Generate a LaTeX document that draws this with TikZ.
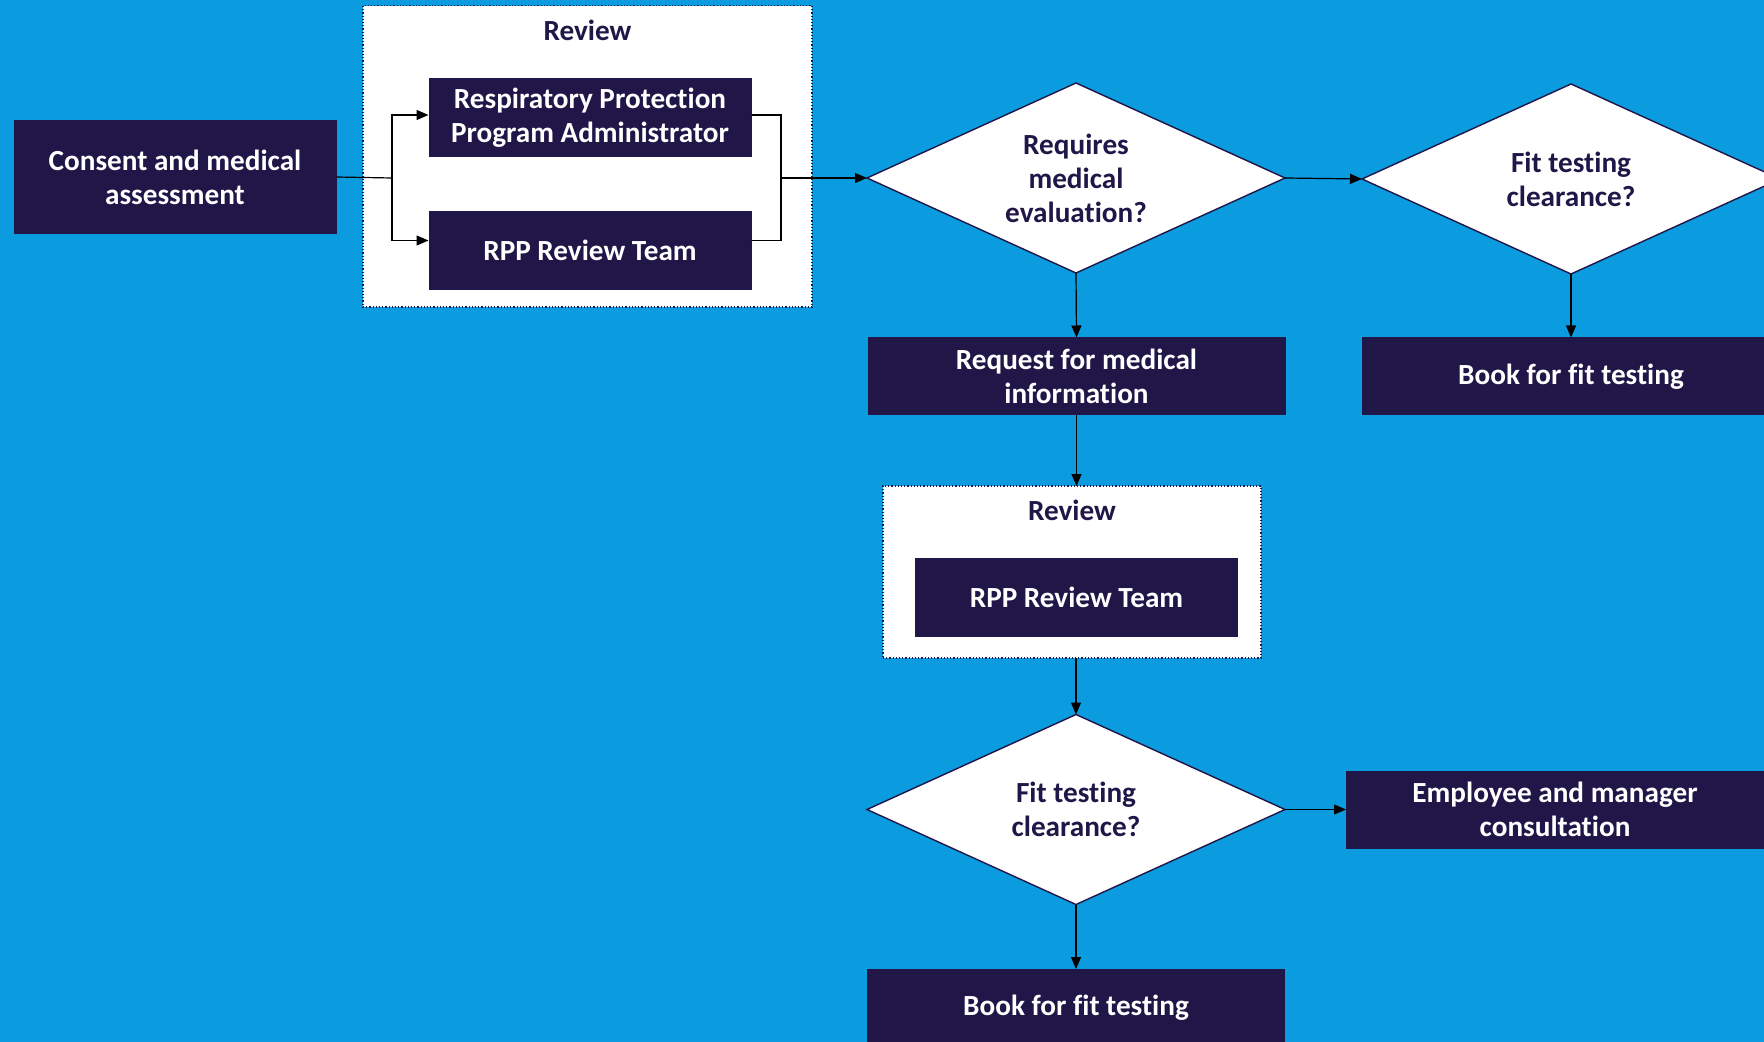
\documentclass[tikz,border=0pt]{standalone}
\usepackage{fontspec}
\setmainfont{Carlito}[Ligatures=NoCommon]
\usetikzlibrary{positioning,shapes.geometric,arrows.meta}

\definecolor{rppblue}{RGB}{11,155,223}
\definecolor{rppnavy}{RGB}{33,22,72}

\begin{document}
\begin{tikzpicture}[
        x=0.5pt, y=-0.5pt,
        font=\fontsize{14.6}{17}\selectfont\bfseries,
    stepbox/.style={
        fill=rppnavy,
        text=white,
        align=center,
        inner sep=0pt,
        outer sep=0pt,
        minimum width=161.5pt,
        minimum height=39.5pt
    },
    widebox/.style={
        stepbox,
        minimum width=209pt,
        minimum height=39pt
    },
    decision/.style={
        diamond,
        aspect=2.2,
        draw=rppnavy,
        line width=0.7pt,
        fill=white,
        text=rppnavy,
        align=center,
        inner sep=0pt,
        outer sep=0pt,
        minimum width=209pt,
        minimum height=95pt
    },
    group/.style={
        draw=rppnavy,
        densely dotted,
        line width=0.6pt,
        fill=white,
        inner sep=0pt,
        outer sep=0pt
    },
    grouptitle/.style={
        text=rppnavy
    },
    link/.style={
        draw=black,
        line width=0.6pt
    },
    flow/.style={
        link,
        -{Triangle[length=6pt,width=5pt]}
    }
    ]

    \fill[rppblue] (0,0) rectangle (1764,1042);
    \useasboundingbox (0,0) rectangle (1764,1042);

    % first review
    \node[group, minimum width=224.5pt, minimum height=150.75pt] (review_a) at (587.5,156.3) {};
    \node[grouptitle] (review_a_title) at (587.5,30) {Review};
    \node[stepbox, minimum height=57pt] (consent) at (175,177) {Consent and medical\\assessment};
    \node[stepbox] (rppa) at (590,118) {Respiratory Protection\\Program Administrator};
    \node[stepbox] (rpp_team_a) at (590,250.5) {RPP Review Team};
    \coordinate (split_l) at (392,178);
    \coordinate (split_r) at (781,178);

    % decisions, top row
    \node[decision] (req_eval) at (1076,178) {Requires\\medical\\evaluation?};
    \node[decision] (fit_a) at (1571,179) {Fit testing\\clearance?};
    \node[widebox] (request) at (1076.5,376.5) {Request for medical\\information};
    \node[widebox, below=31.75pt of fit_a] (book_a) {Book for fit testing};

    % second review
    \node[group, minimum width=189pt, minimum height=86pt] (review_b) at (1072,572) {};
    \node[grouptitle] (review_b_title) at (1072,510) {Review};
    \node[stepbox] (rpp_team_b) at (1076.5,597) {RPP Review Team};
    \node[decision] (fit_b) at (1076,809.5) {Fit testing\\clearance?};
    \node[widebox, right=30.5pt of fit_b] (consult) {Employee and manager\\consultation};
    \node[widebox, minimum height=38.5pt] (book_b) at (1076,1007.5) {Book for fit testing};

    \draw[link] (consent.east) -- (split_l);
    \draw[flow] (split_l) |- ([yshift=1.5pt]rppa.west);
    \draw[flow] (split_l) |- ([yshift=5pt]rpp_team_a.west);
    \draw[link] ([yshift=1.5pt]rppa.east) -| (split_r);
    \draw[link] ([yshift=5pt]rpp_team_a.east) -| (split_r);
    \draw[flow] (split_r) -- (req_eval.west);
    \draw[flow] (req_eval.east) -- (fit_a.west);
    \draw[flow] (fit_a.south) -- (book_a.north);
    \draw[flow] (req_eval.south) -- (request.north);
    \draw[flow] (request.south) -- (review_b.north -| request.south);
    \draw[flow] (review_b.south -| fit_b.north) -- (fit_b.north);
    \draw[flow] (fit_b.east) -- (consult.west);
    \draw[flow] (fit_b.south) -- (book_b.north);
\end{tikzpicture}
\end{document}
